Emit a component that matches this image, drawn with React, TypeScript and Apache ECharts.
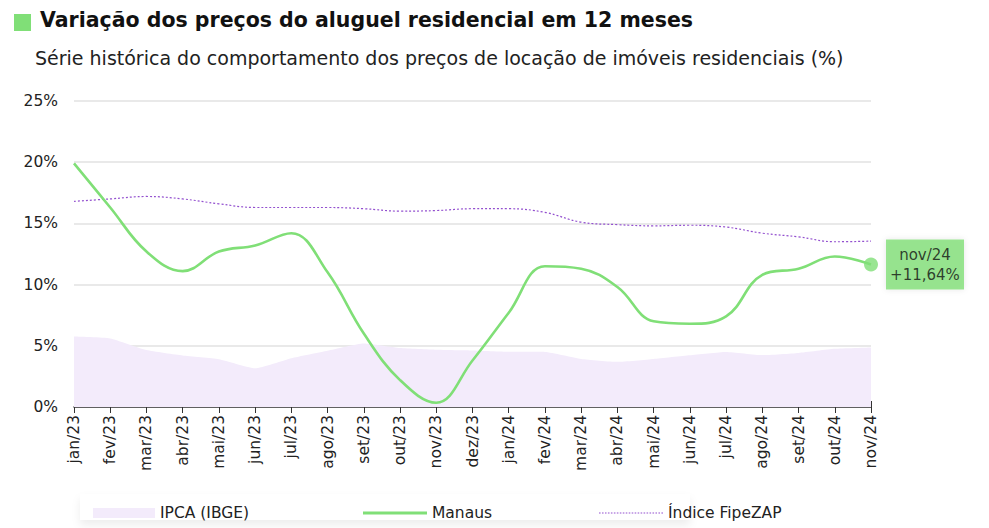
import React, { useEffect, useRef } from "react";
import * as echarts from "echarts";

const months = ["jan/23","fev/23","mar/23","abr/23","mai/23","jun/23","jul/23","ago/23","set/23","out/23","nov/23","dez/23","jan/24","fev/24","mar/24","abr/24","mai/24","jun/24","jul/24","ago/24","set/24","out/24","nov/24"];
const manaus = [19.9,16.3,12.7,11.1,12.7,13.2,14.2,11.0,6.0,2.2,0.35,3.8,7.7,11.5,11.3,9.8,7.0,6.8,7.4,10.8,11.3,12.3,11.64];
const fipezap = [16.8,17.0,17.2,17.0,16.6,16.3,16.3,16.3,16.2,16.0,16.05,16.2,16.2,15.9,15.1,14.9,14.8,14.85,14.7,14.2,13.9,13.5,13.55];
const ipca = [5.75,5.6,4.65,4.2,3.9,3.16,3.99,4.6,5.19,4.82,4.68,4.62,4.51,4.5,3.93,3.69,3.93,4.23,4.5,4.24,4.42,4.76,4.87];
const yTicks = [0,5,10,15,20,25];
const lastLabel = "nov/24";
const lastValueText = "+11,64%";

const FONT = "'DejaVu Sans', 'Noto Sans', sans-serif";
const GREEN = "#80df77";
const PURPLE = "#9350cf";
const LAVENDER = "#f3ebfb";

const dottedIcon = "path://" + Array.from({ length: 22 }, (_, i) => `M${i * 3},0h1.6v1h-1.6z`).join(" ");

export default function App() {
  const ref = useRef<HTMLDivElement>(null);
  useEffect(() => {
    if (!ref.current) return;
    const chart = echarts.init(ref.current, null, { renderer: "svg" });
    const last = months.length - 1;
    const legendText = { fontSize: 15.5, color: "#222", fontFamily: FONT };
    chart.setOption({
      animation: false,
      backgroundColor: "#ffffff",
      textStyle: { fontFamily: FONT },
      graphic: [
        { type: "rect", left: 14, top: 14, shape: { width: 17, height: 17 }, style: { fill: GREEN } },
        { type: "text", left: 40, top: 9, style: { text: "Variação dos preços do aluguel residencial em 12 meses", font: `bold 20.5px ${FONT}`, fill: "#111" } },
        { type: "text", left: 35, top: 48, style: { text: "Série histórica do comportamento dos preços de locação de imóveis residenciais (%)", font: `19px ${FONT}`, fill: "#222" } },
        { type: "rect", left: 80, top: 494, z: -10, shape: { width: 610, height: 26 }, style: { fill: "#fff", shadowColor: "rgba(0,0,0,0.07)", shadowBlur: 8, shadowOffsetY: 5 } },
      ],
      grid: { left: 74, right: 118, top: 101, bottom: 121 },
      legend: [
        { left: 88, top: 500, itemWidth: 62, itemHeight: 10, itemGap: 8, data: [{ name: "IPCA (IBGE)", icon: "rect" }], textStyle: legendText },
        { left: 358, top: 500, itemWidth: 64, itemHeight: 3, data: [{ name: "Manaus", icon: "rect" }], textStyle: legendText },
        { left: 594, top: 500, itemWidth: 64, itemHeight: 1.2, data: [{ name: "Índice FipeZAP", icon: dottedIcon }], textStyle: legendText },
      ],
      xAxis: [
        {
          type: "category", data: months, boundaryGap: false,
          axisLine: { lineStyle: { color: "#333", width: 1.5 } },
          axisTick: { show: true, alignWithLabel: true, length: 6, lineStyle: { color: "#333" } },
          axisLabel: { rotate: 90, fontSize: 15.5, color: "#222", margin: 8, interval: 0, fontFamily: FONT },
        },
        {
          type: "category", data: months, boundaryGap: false, position: "bottom",
          axisLine: { show: false },
          axisTick: { show: true, inside: true, length: 6, lineStyle: { color: "#333" } },
          axisLabel: { show: false },
        },
      ],
      yAxis: {
        type: "value", min: 0, max: 25, interval: 5,
        axisLabel: { formatter: (v: number) => (yTicks.includes(v) ? `${v}%` : ""), fontSize: 15.5, color: "#222", margin: 16, fontFamily: FONT },
        splitLine: { lineStyle: { color: "#e2e2e2", width: 1.5 } },
        axisLine: { show: false }, axisTick: { show: false },
      },
      series: [
        {
          name: "IPCA (IBGE)", type: "line", data: ipca, symbol: "none", smooth: 0.15,
          lineStyle: { width: 0, color: LAVENDER }, itemStyle: { color: LAVENDER },
          areaStyle: { color: LAVENDER, opacity: 1 }, z: 1,
        },
        {
          name: "Índice FipeZAP", type: "line", data: fipezap, symbol: "none", smooth: 0.4,
          lineStyle: { width: 1.2, color: PURPLE, type: [2, 2] }, itemStyle: { color: PURPLE }, z: 2,
        },
        {
          name: "Manaus", type: "line", data: manaus, symbol: "none", smooth: 0.4,
          lineStyle: { width: 2.6, color: GREEN }, itemStyle: { color: GREEN }, z: 3,
        },
        {
          name: "end", type: "scatter", data: [[last, manaus[last]]], symbolSize: 14,
          itemStyle: { color: GREEN }, z: 4,
          label: {
            show: true, position: "right", distance: 8,
            formatter: () => `{a|${lastLabel}}\n{a|${lastValueText}}`,
            backgroundColor: GREEN, padding: [5, 7, 5, 7],
            shadowColor: "rgba(0,0,0,0.12)", shadowBlur: 6,
            rich: { a: { width: 64, align: "center", fontSize: 15, lineHeight: 20, color: "#111", fontFamily: FONT } },
          },
        },
      ],
    });
    return () => chart.dispose();
  }, []);
  return <div ref={ref} style={{ width: 989, height: 528, position: "absolute", left: 0, top: 0 }} />;
}
